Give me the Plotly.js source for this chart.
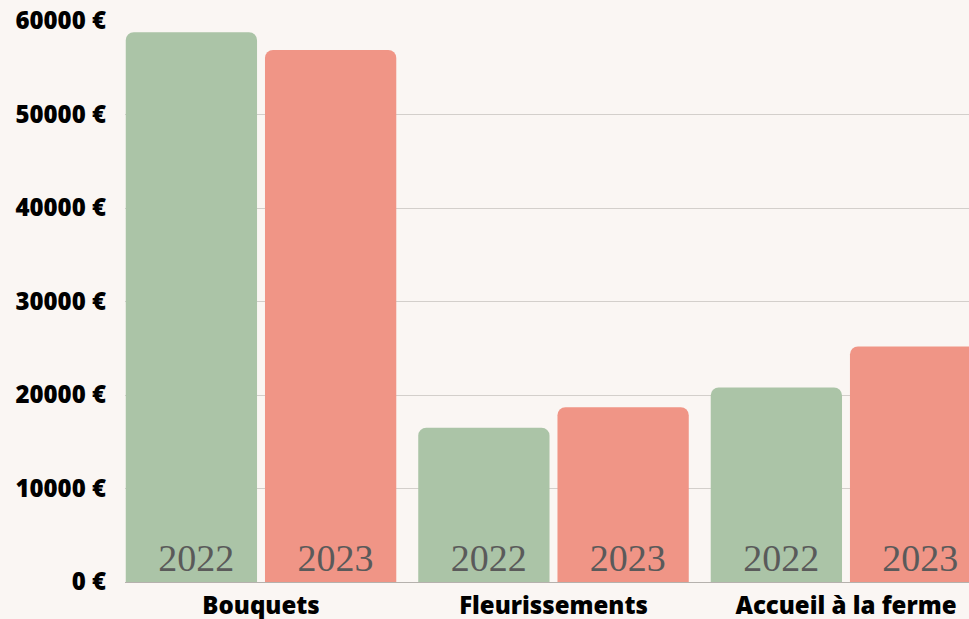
<!DOCTYPE html>
<html>
<head>
<meta charset="utf-8">
<script src="https://cdn.plot.ly/plotly-3.0.1.min.js"></script>
<style>
html,body{margin:0;padding:0;overflow:hidden;background:#faf6f3;}
#chart{width:982px;height:640px;}
</style>
</head>
<body>
<div id="chart"></div>
<script>
const categories = ["Bouquets", "Fleurissements", "Accueil à la ferme"];
const values2022 = [58800, 16500, 20800];
const values2023 = [56900, 18700, 25200];
const labels2022 = ["2022", "2022", "2022"];
const labels2023 = ["2023", "2023", "2023"];
const yTickVals = [0, 10000, 20000, 30000, 40000, 50000, 60000];
const yTickText = ["0 €", "10000 €", "20000 €", "30000 €", "40000 €", "50000 €", "60000 €"];

const textFont = {family: "Liberation Serif, serif", size: 38, color: "#5a5a5a"};
const tickFont = {family: "Open Sans, sans-serif", size: 24, color: "#000000", weight: 800};

const traces = [
  {
    type: "bar", x: categories, y: values2022, name: "2022",
    text: labels2022, texttemplate: "\u00a0%{text}", textposition: "inside", insidetextanchor: "start",
    textangle: 0, textfont: textFont, constraintext: "none",
    marker: {color: "#abc4a7", cornerradius: 8},
    hoverinfo: "none"
  },
  {
    type: "bar", x: categories, y: values2023, name: "2023",
    text: labels2023, texttemplate: "\u00a0%{text}", textposition: "inside", insidetextanchor: "start",
    textangle: 0, textfont: textFont, constraintext: "none",
    marker: {color: "#f09586", cornerradius: 8},
    hoverinfo: "none"
  }
];

const layout = {
  width: 982, height: 640,
  margin: {l: 125, r: 0, t: 21, b: 58, pad: 0},
  paper_bgcolor: "#faf6f3",
  plot_bgcolor: "#faf6f3",
  showlegend: false,
  barmode: "group",
  bargap: 0.048,
  bargroupgap: 0.057,
  xaxis: {
    range: [-0.465, 2.465],
    showgrid: false,
    zeroline: false,
    showline: false,
    ticks: "",
    tickfont: tickFont,
    ticklabelstandoff: 7
  },
  yaxis: {
    range: [0, 60000],
    tickvals: yTickVals,
    ticktext: yTickText,
    showgrid: true,
    gridcolor: "#d3cfcb",
    gridwidth: 1,
    zeroline: true,
    zerolinecolor: "#b5b1ad",
    zerolinewidth: 1,
    showline: false,
    ticks: "",
    tickfont: tickFont,
    ticklabelstandoff: 18
  }
};

Plotly.newPlot("chart", traces, layout, {displayModeBar: false, staticPlot: true});
</script>
</body>
</html>
